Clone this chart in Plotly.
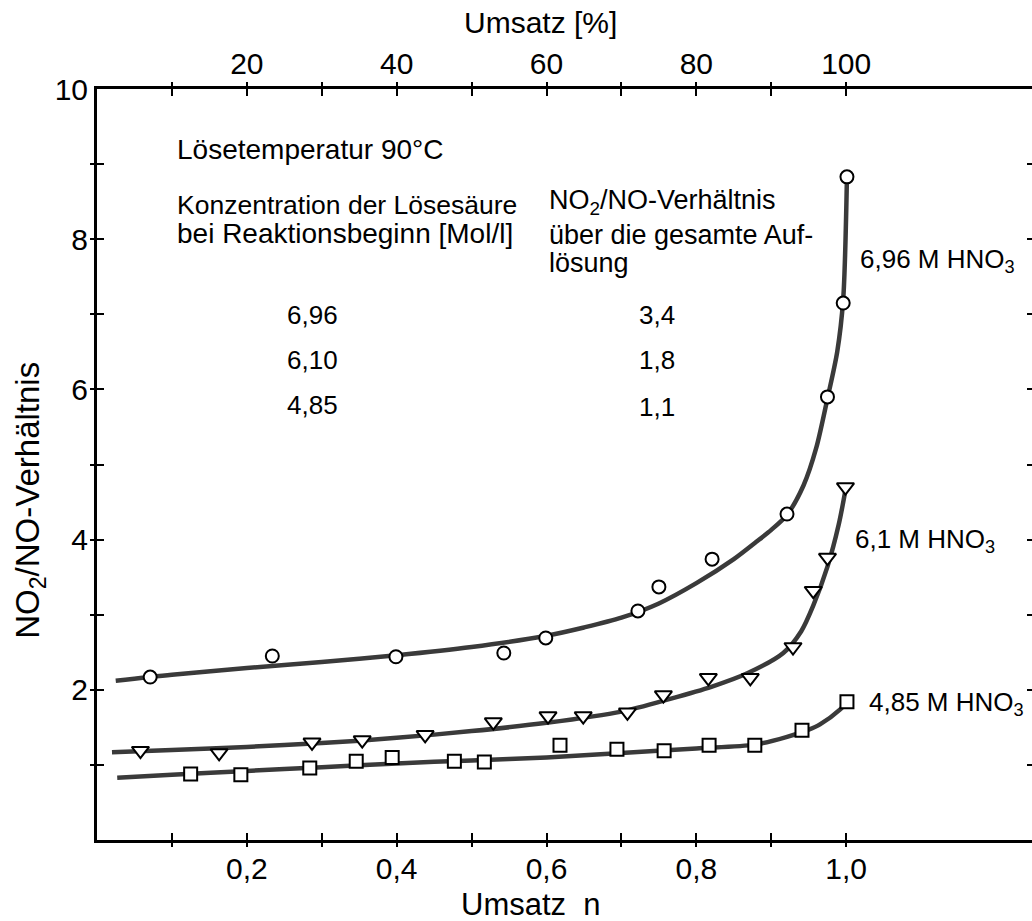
import plotly.graph_objects as go

# ---------------- data ----------------
# 6,96 M HNO3 (circles)
c_x = [0.071, 0.234, 0.399, 0.543, 0.599, 0.722, 0.750, 0.821, 0.921, 0.975, 0.996, 1.001]
c_y = [2.17, 2.45, 2.44, 2.49, 2.69, 3.05, 3.37, 3.74, 4.34, 5.90, 7.15, 8.83]
c_fit_x = [0.025, 0.10, 0.20, 0.30, 0.40, 0.50, 0.60, 0.65, 0.70, 0.75, 0.80, 0.85, 0.88, 0.90, 0.921, 0.943, 0.96, 0.975, 0.988, 0.996, 1.001]
c_fit_y = [2.12, 2.20, 2.29, 2.37, 2.46, 2.57, 2.72, 2.83, 2.96, 3.15, 3.42, 3.74, 3.97, 4.13, 4.33, 4.72, 5.22, 5.88, 6.50, 7.20, 8.83]

# 6,1 M HNO3 (triangles)
t_x = [0.058, 0.163, 0.287, 0.354, 0.438, 0.529, 0.602, 0.649, 0.708, 0.756, 0.816, 0.872, 0.929, 0.956, 0.975, 0.999]
t_y = [1.19, 1.16, 1.30, 1.33, 1.40, 1.57, 1.65, 1.65, 1.70, 1.93, 2.16, 2.16, 2.57, 3.32, 3.76, 4.70]
t_fit_x = [0.02, 0.10, 0.20, 0.30, 0.40, 0.50, 0.60, 0.70, 0.765, 0.82, 0.868, 0.916, 0.94, 0.956, 0.975, 0.99, 0.999]
t_fit_y = [1.17, 1.20, 1.24, 1.29, 1.36, 1.45, 1.56, 1.71, 1.88, 2.04, 2.22, 2.49, 2.78, 3.12, 3.64, 4.20, 4.66]

# 4,85 M HNO3 (squares)
s_x = [0.125, 0.192, 0.284, 0.346, 0.394, 0.477, 0.517, 0.618, 0.694, 0.757, 0.817, 0.878, 0.941, 1.001]
s_y = [0.88, 0.87, 0.96, 1.05, 1.10, 1.05, 1.04, 1.26, 1.21, 1.19, 1.26, 1.26, 1.46, 1.84]
s_fit_x = [0.027, 0.10, 0.20, 0.30, 0.40, 0.50, 0.60, 0.70, 0.80, 0.878, 0.92, 0.95, 0.965, 0.992, 1.001]
s_fit_y = [0.83, 0.87, 0.92, 0.97, 1.02, 1.06, 1.10, 1.16, 1.22, 1.27, 1.37, 1.47, 1.54, 1.74, 1.84]

# ticks
x_ticks = [0.1, 0.2, 0.3, 0.4, 0.5, 0.6, 0.7, 0.8, 0.9, 1.0]
x_ticktext = ["", "0,2", "", "0,4", "", "0,6", "", "0,8", "", "1,0"]
top_ticks = [10, 20, 30, 40, 50, 60, 70, 80, 90, 100]
top_ticktext = ["", "20", "", "40", "", "60", "", "80", "", "100"]
y_ticks = [1, 2, 3, 4, 5, 6, 7, 8, 9, 10]
y_ticktext = ["", "2", "", "4", "", "6", "", "8", "", "10"]

# texts
curve_labels = ["6,96 M HNO<sub>3</sub>", "6,1 M HNO<sub>3</sub>", "4,85 M HNO<sub>3</sub>"]
conc_values = ["6,96", "6,10", "4,85"]
ratio_values = ["3,4", "1,8", "1,1"]

# ---------------- figure ----------------
SANS = "Liberation Sans, Arial, sans-serif"
LINE_COL = "#3a3a3a"
X_MAX = 1.248

fig = go.Figure()

for fx, fy in [(c_fit_x, c_fit_y), (t_fit_x, t_fit_y), (s_fit_x, s_fit_y)]:
    fig.add_trace(go.Scatter(x=fx, y=fy, mode="lines",
                             line=dict(color=LINE_COL, width=4.5, shape="spline", smoothing=0.8),
                             hoverinfo="skip", showlegend=False))

for px_, py_, sym, size in [(c_x, c_y, "circle", 13), (t_x, t_y, "triangle-down", 15), (s_x, s_y, "square", 13)]:
    fig.add_trace(go.Scatter(x=px_, y=py_, mode="markers",
                             marker=dict(symbol=sym, size=size, color="white",
                                         line=dict(color="black", width=2)),
                             showlegend=False))

# empty traces to bind helper axes
for xa, ya in [("x2", "y"), ("x3", "y"), ("x4", "y"), ("x", "y2"), ("x", "y3")]:
    fig.add_trace(go.Scatter(x=[], y=[], xaxis=xa, yaxis=ya, showlegend=False, hoverinfo="skip"))

tickfont = dict(family=SANS, size=30, color="black")
common_helper = dict(tickwidth=2, tickcolor="black", showticklabels=False,
                     showline=False, showgrid=False, zeroline=False)
fig.update_layout(
    width=1032, height=921,
    margin=dict(l=97, r=0, t=89, b=81),
    paper_bgcolor="white", plot_bgcolor="white",
    # labelled axes carry the inside half of the crossing ticks
    xaxis=dict(range=[0, X_MAX], tickvals=x_ticks, ticktext=x_ticktext, ticks="inside", ticklen=7,
               tickwidth=2, tickcolor="black", showline=True, linewidth=3, linecolor="black",
               showgrid=False, zeroline=False, tickfont=tickfont),
    xaxis3=dict(range=[0, X_MAX], overlaying="x", anchor="y", side="bottom", tickvals=x_ticks,
                ticks="outside", ticklen=6, **common_helper),
    xaxis2=dict(range=[0, X_MAX * 100], overlaying="x", anchor="y", side="top", tickvals=top_ticks,
                ticktext=top_ticktext, ticks="inside", ticklen=7, tickwidth=2, tickcolor="black",
                showline=True, linewidth=3, linecolor="black", showgrid=False, zeroline=False,
                tickfont=tickfont),
    xaxis4=dict(range=[0, X_MAX * 100], overlaying="x", anchor="y", side="top", tickvals=top_ticks,
                ticks="outside", ticklen=6, **common_helper),
    yaxis=dict(range=[0, 10], tickvals=y_ticks, ticktext=y_ticktext, ticks="inside", ticklen=7,
               tickwidth=2, tickcolor="black", showline=True, linewidth=3, linecolor="black",
               showgrid=False, zeroline=False, tickfont=tickfont),
    yaxis3=dict(range=[0, 10], overlaying="y", anchor="x", side="left", tickvals=y_ticks[:-1],
                ticks="outside", ticklen=6, **common_helper),
    yaxis2=dict(range=[0, 10], overlaying="y", anchor="x", side="right", tickvals=y_ticks[:-1],
                ticks="inside", ticklen=5, **common_helper),
)

ann = []
def A(text, x, y, xanchor="left", size=28, family=SANS, xref="x", yref="y", angle=0):
    ann.append(dict(text=text, x=x, y=y, xref=xref, yref=yref, xanchor=xanchor, yanchor="middle",
                    showarrow=False, textangle=angle, font=dict(family=family, size=size, color="black")))

A("Lösetemperatur 90°C", 0.104, 9.19)
A("Konzentration der Lösesäure", 0.104, 8.46, size=26.5)
A("bei Reaktionsbeginn [Mol/l]", 0.104, 8.08)
A("NO<sub>2</sub>/NO-Verhältnis", 0.601, 8.49, size=27)
A("über die gesamte Auf-", 0.601, 8.06, size=27)
A("lösung", 0.601, 7.68, size=27)
for v, yy in zip(conc_values, [6.99, 6.39, 5.79]):
    A(v, 0.287, yy, xanchor="center", size=26)
for v, yy in zip(ratio_values, [6.99, 6.39, 5.77]):
    A(v, 0.748, yy, xanchor="center", size=26)
for lab, xx, yy in zip(curve_labels, [1.016, 1.009, 1.028], [7.72, 3.99, 1.82]):
    A(lab, xx, yy, size=26)

A("Umsatz\u00a0\u00a0n", 0.464, -0.086, xanchor="center", size=31, xref="paper", yref="paper")
A("Umsatz [%]", 0.474, 1.089, xanchor="center", size=30, xref="paper", yref="paper")
A("NO<sub>2</sub>/NO-Verhältnis", -0.0717, 0.453, xanchor="center", size=33, xref="paper", yref="paper", angle=-90)

fig.update_layout(annotations=ann)
fig.write_html("out.html")
